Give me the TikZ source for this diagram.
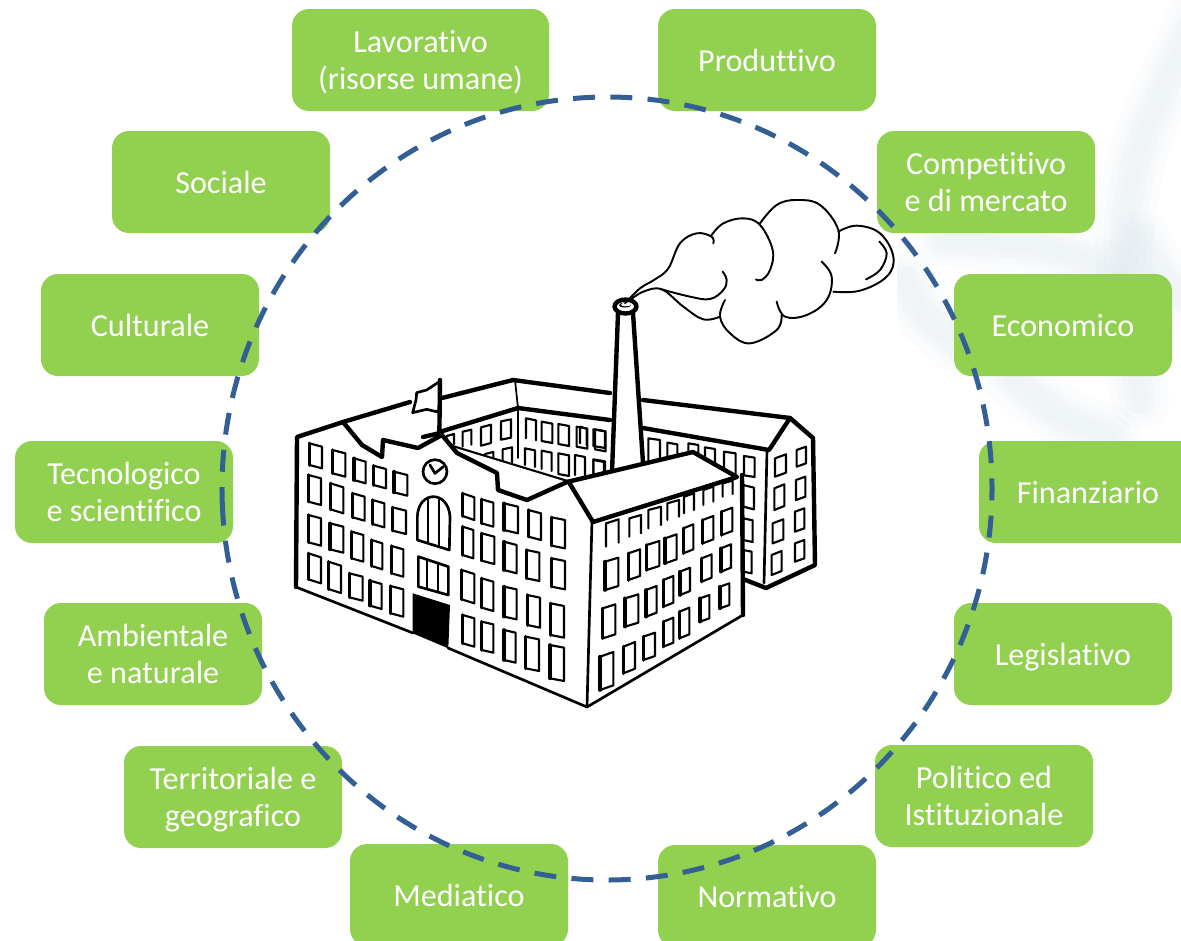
\documentclass[tikz,border=0pt]{standalone}
\usepackage{fontspec}
\setmainfont{Carlito}[Ligatures=NoCommon]
\definecolor{boxgreen}{HTML}{92D050}
\definecolor{ringblue}{HTML}{335F94}
\definecolor{washc}{HTML}{BFD6E2}
\tikzset{
  topic/.style={fill=boxgreen,rounded corners=12.75pt,minimum width=163.5pt,minimum height=76.5pt,inner sep=0pt,
    text=white,align=center,font=\fontsize{24.1}{28.2}\selectfont,text height=17.3pt,text depth=0.8pt},
  topictwo/.style={topic,text height=45.5pt},
  ring/.style={draw=ringblue,line width=3.75pt,dash pattern=on 16.5pt off 11.46pt},
  heavy/.style={draw=black,line width=3.3pt,line join=round,line cap=round},
  mid/.style={draw=black,line width=2pt,line join=round,line cap=round},
  thin line/.style={draw=black,line width=1.3pt,line join=round,line cap=round},
  winline/.style={draw=black,line width=1.6pt,line join=round,line cap=round},
  winedge/.style={draw=black,line width=2.7pt,line cap=round},
  smoke/.style={draw=black,line width=1.45pt,line cap=round}
}
\newcommand{\fwin}[5]{\draw[winline] (#1,#2) -- ++(#3,#5) -- ++(0,#4) -- ++(-#3,-#5) -- cycle; \draw[winedge] (#1,#2) -- ++(0,#4);}
\newcommand{\owin}[5]{\draw[winline] (#1,#2+#4) -- ++(0,-#4) -- ++(#3,#5) -- ++(0,#4);}
\newcommand{\bwin}[5]{\draw[winline] (#1,#2) -- ++(#3,#5) -- ++(0,#4) -- ++(-#3,-#5) -- cycle;}
\newcommand{\puff}[1]{\draw[smoke] plot[smooth,tension=.65] coordinates {#1};}
\newcommand{\wash}[1]{\foreach \w in {44,32,22,12}{\draw[draw=washc,opacity=.06,line width=\w pt,line cap=round,line join=round] plot[smooth,tension=.7] coordinates {#1};}}
\begin{document}
\begin{tikzpicture}[x=0.75pt,y=-0.75pt]
\useasboundingbox (0,0) rectangle (1181,940);
\clip (0,0) rectangle (1181,940);
\fill[white] (0,0) rectangle (1181,940);
% pale watermark, right of the factory picture
\begin{scope}
\clip (897,0) rectangle (1181,560);
\wash{(1200,10)(1150,120)(1132,180)(1124,250)(1130,320)(1140,400)}
\wash{(945,240)(1040,247)(1097,267)(1140,300)}
\wash{(905,280)(925,315)(960,345)}
\wash{(1010,375)(1060,415)(1110,435)}
\wash{(1140,240)(1165,280)(1190,300)}
\end{scope}
% topics
\node[topictwo,minimum width=192.75pt] (lavorativo) at (420.5,60) {Lavorativo\\(risorse umane)};
\node[topic] (produttivo) at (767,60) {Produttivo};
\node[topictwo] (competitivo) at (986,182) {Competitivo\\e di mercato};
\node[topic] (sociale) at (221,182) {Sociale};
\node[topic] (culturale) at (150,325) {Culturale};
\node[topic] (economico) at (1063,325) {Economico};
\node[topictwo] (tecnologico) at (124,492) {Tecnologico\\e scientifico};
\node[topic] (finanziario) at (1088,492) {Finanziario};
\node[topictwo] (ambientale) at (153,654) {Ambientale\\e naturale};
\node[topic] (legislativo) at (1063,654) {Legislativo};
\node[topictwo] (territoriale) at (233,797) {Territoriale e\\geografico};
\node[topictwo] (politico) at (984,796) {Politico ed\\Istituzionale};
\node[topic] (mediatico) at (459,895) {Mediatico};
\node[topic] (normativo) at (767,896) {Normativo};
% ring
\draw[ring] ({607+385*cos(177)},{488.5+391.5*sin(177)}) arc[start angle=177,end angle=537,x radius=385,y radius=391.5];
% back building
\fill[white] (415,402) -- (513,380) -- (790,418) -- (813,438) -- (815,565) -- (768,588) -- (743,580) -- (500,500) -- cycle;
\begin{scope}[shift={(280,200)},scale=1/3]
\owin{500}{708}{22}{30}{-6}
\owin{548}{695}{26}{45}{-6}
\bwin{603}{682}{30}{55}{-8}
\bwin{663}{664}{30}{55}{-6}
\owin{738}{655}{30}{60}{6}
\bwin{785}{665}{32}{58}{6}
\bwin{835}{672}{32}{60}{6}
\bwin{890}{680}{32}{60}{6}
\bwin{945}{688}{32}{60}{6}
\owin{615}{762}{25}{40}{-6}
\owin{668}{748}{28}{45}{-6}
\owin{735}{745}{30}{50}{6}
\owin{785}{752}{30}{55}{6}
\bwin{835}{760}{32}{62}{6}
\owin{885}{765}{30}{60}{6}
\owin{940}{780}{32}{50}{6}
\end{scope}
\begin{scope}[shift={(580,200)},scale=1/3]
\bwin{40}{688}{35}{50}{6}
\owin{0}{680}{20}{50}{6}
\owin{40}{778}{35}{50}{6}
\owin{205}{715}{35}{70}{5}
\owin{262}{728}{30}{60}{5}
\owin{325}{730}{30}{50}{5}
\owin{375}{742}{30}{50}{5}
\owin{432}{755}{35}{60}{5}
\bwin{492}{768}{32}{58}{5}
\end{scope}
\begin{scope}[shift={(580,440)},scale=1/3]
\bwin{490}{135}{32}{65}{8}
\bwin{490}{235}{28}{65}{6}
\bwin{490}{330}{25}{65}{5}
\bwin{585}{55}{33}{55}{-12}
\bwin{583}{145}{30}{65}{-12}
\bwin{578}{250}{32}{60}{-12}
\bwin{575}{345}{30}{60}{-12}
\bwin{650}{30}{28}{50}{-10}
\bwin{648}{120}{28}{60}{-10}
\bwin{645}{215}{28}{60}{-10}
\bwin{645}{310}{28}{55}{-10}
\end{scope}
\draw[heavy] (442,398) -- (513,380) -- (610,393);
\draw[heavy] (643,400) -- (790,418);
\draw[heavy] (423,437) -- (518,408) -- (610,420);
\draw[heavy] (643,428) -- (769,450) -- (790,418) -- (813,438) -- (815,565) -- (766,588) -- (743,579);
\draw[thin line] (515,380) -- (518,408) -- (518,458);
\draw[mid] (767,450) -- (764,583);
\draw[heavy] (452,447) -- (567,482) -- (610,473);
% chimney
\fill[white] (618,313) -- (612,474) -- (643,464) -- (633,313) -- cycle;
\draw[heavy] (618,313) -- (612,472);
\draw[heavy] (633,313) -- (643,463);
\draw[heavy,fill=white] (625.5,306.5) ellipse [x radius=11,y radius=7];
\fill[black] (625,305) ellipse [x radius=6,y radius=2.5];
\fill[white] (626,304.5) ellipse [x radius=5,y radius=1.8];
% smoke
\begin{scope}[shift={(580,200)},scale=1/3]
\puff{(135,310)(180,265)(225,238)(265,205)(300,130)(350,100)(395,110)(400,130)}
\puff{(395,105)(430,70)(490,55)(540,75)(578,150)(570,210)(545,240)(528,238)}
\puff{(540,70)(590,15)(650,0)(720,15)(775,90)(765,160)}
\puff{(775,95)(830,77)(900,100)(940,170)(920,230)(840,272)(760,275)}
\puff{(898,125)(920,160)(900,210)(858,238)}
\puff{(725,185)(755,230)(740,300)(680,345)(615,350)(590,305)}
\puff{(605,345)(590,390)(510,430)(450,400)(420,350)(435,300)}
\puff{(420,350)(370,358)(310,320)(245,268)(190,275)(150,300)}
\puff{(245,268)(330,290)(390,297)(430,270)(440,240)(428,215)}
\end{scope}
% front block
\fill[white] (297,437) -- (343,422) -- (415,402) -- (440,398) -- (440,435) -- (452,447) -- (567,482) -- (693,452) -- (737,477) -- (743,615) -- (587,707) -- (296,587) -- cycle;
\draw[heavy] (296,587) -- (297,437) -- (343,422) -- (410,402);
\draw[mid] (296,587) -- (413,633);
\draw[mid] (448,648) -- (587,707) -- (743,615);
\draw[heavy] (742,475) -- (743,615);
\draw[mid] (592,520) -- (587,707);
\draw[heavy] (343,422) -- (362,445) -- (382,457) -- (383,440) -- (418,448) -- (442,435);
\draw[heavy] (442,435) -- (457,453) -- (497,473) -- (498,490) -- (527,500) -- (567,482);
\draw[heavy] (423,437) -- (440,433);
\draw[heavy] (567,482) -- (693,452) -- (737,477) -- (593,522) -- (570,484);
\begin{scope}[shift={(280,200)},scale=1/3]
\draw[mid,fill=white] (478,545) -- (440,570) -- (410,578) -- (408,600) -- (398,638) -- (440,628) -- (470,635) -- (478,630);
\draw[heavy] (480,540) -- (478,705);
\fwin{88}{730}{38}{65}{10}
\fwin{158}{750}{38}{70}{10}
\fwin{222}{775}{35}{65}{10}
\fwin{280}{797}{38}{58}{10}
\fwin{342}{815}{40}{62}{10}
\draw[mid] (465,815) circle (36);
\draw[mid] (450,795) -- (465,820) -- (490,800);
\end{scope}
\begin{scope}[shift={(280,460)},scale=1/3]
\fwin{85}{45}{38}{80}{10}
\fwin{152}{70}{38}{78}{12}
\fwin{218}{100}{36}{72}{10}
\fwin{278}{120}{35}{72}{10}
\fwin{338}{142}{40}{70}{10}
\fwin{85}{165}{38}{82}{10}
\fwin{150}{190}{40}{78}{10}
\fwin{215}{215}{35}{80}{10}
\fwin{275}{240}{32}{78}{10}
\fwin{335}{258}{35}{82}{10}
\fwin{85}{280}{38}{78}{12}
\fwin{145}{305}{38}{82}{12}
\fwin{208}{340}{40}{72}{10}
\fwin{270}{362}{35}{75}{10}
\fwin{332}{378}{38}{82}{10}
\fwin{548}{100}{35}{68}{12}
\fwin{605}{118}{35}{72}{10}
\fwin{672}{130}{42}{80}{10}
\fwin{745}{150}{38}{80}{10}
\fwin{815}{172}{40}{85}{8}
\fwin{548}{200}{32}{85}{10}
\fwin{605}{220}{38}{82}{10}
\fwin{672}{245}{38}{85}{10}
\fwin{740}{270}{38}{85}{8}
\fwin{815}{295}{40}{85}{8}
\fwin{545}{330}{38}{88}{12}
\fwin{605}{355}{35}{88}{10}
\fwin{672}{380}{38}{90}{8}
\fwin{742}{405}{38}{90}{8}
\fwin{812}{430}{40}{95}{8}
\fwin{548}{465}{35}{85}{10}
\fwin{605}{485}{35}{85}{8}
\fwin{672}{510}{35}{90}{8}
\fwin{737}{530}{40}{95}{8}
\fwin{810}{555}{42}{100}{8}
% centre
\draw[mid] (412,240) -- (412,170) .. controls (415,90) and (505,90) .. (510,170) -- (508,270) -- cycle;
\draw[thin line] (445,118) -- (445,250);
\draw[thin line] (478,118) -- (478,258);
\draw[mid] (415,290) -- (505,320) -- (505,405) -- (415,380) -- cycle;
\draw[thin line] (442,300) -- (442,388);
\draw[thin line] (475,310) -- (475,395);
\fill[black] (398,400) -- (510,435) -- (505,565) -- (398,520) -- cycle;
\end{scope}
\begin{scope}[shift={(580,440)},scale=1/3]
\owin{78}{250}{38}{70}{-12}
\owin{148}{235}{35}{55}{-10}
\owin{205}{210}{38}{55}{-10}
\owin{262}{190}{35}{50}{-10}
\owin{312}{170}{30}{50}{-10}
\owin{370}{150}{30}{45}{-10}
\owin{428}{130}{30}{40}{-8}
\fwin{75}{365}{40}{85}{-12}
\fwin{145}{340}{35}{80}{-12}
\fwin{200}{315}{38}{75}{-12}
\fwin{255}{295}{35}{75}{-12}
\fwin{310}{265}{30}{75}{-12}
\fwin{368}{240}{32}{70}{-12}
\fwin{425}{215}{32}{70}{-12}
\fwin{68}{505}{38}{90}{-12}
\fwin{135}{475}{40}{85}{-12}
\fwin{198}{450}{32}{80}{-12}
\fwin{250}{420}{30}{80}{-12}
\fwin{300}{395}{30}{70}{-12}
\fwin{365}{355}{30}{70}{-12}
\fwin{423}{325}{30}{70}{-12}
\fwin{60}{650}{40}{100}{-14}
\fwin{130}{620}{35}{80}{-14}
\fwin{190}{590}{35}{70}{-12}
\fwin{250}{545}{30}{75}{-12}
\fwin{298}{515}{30}{80}{-12}
\fwin{360}{475}{28}{70}{-10}
\fwin{420}{440}{28}{65}{-10}
\end{scope}
\end{tikzpicture}
\end{document}
